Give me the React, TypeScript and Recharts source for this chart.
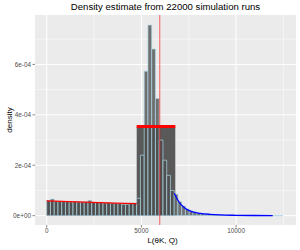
import {
  ComposedChart,
  Area,
  Line,
  XAxis,
  YAxis,
  CartesianGrid,
  ReferenceArea,
  ReferenceLine,
} from 'recharts';

// histogram of simulated L values, density in units of 1e-4
const BIN_WIDTH = 198;
const binDensity = [
  0.60, 0.66, 0.58, 0.57, 0.56, 0.56, 0.55, 0.56, 0.55, 0.54, 0.55, 0.61,
  0.53, 0.52, 0.52, 0.51, 0.52, 0.50, 0.50, 0.48, 0.45, 0.45, 0.50, 0.50,
  0.69, 2.4, 5.73, 7.56, 6.61, 4.65, 3.0, 2.2, 1.6, 1.0, 0.85,
  0.55, 0.38, 0.26, 0.19, 0.14, 0.10, 0.08, 0.06, 0.05, 0.04, 0.03, 0.03, 0.02, 0.02,
  0.015, 0.012, 0.01, 0.01, 0.008, 0.007, 0.006, 0.006, 0.005, 0.004, 0.004, 0.003, 0.003, 0.002,
];

// piecewise estimate: left segment (red), central block (thick red), tail (blue)
const leftSegment = [
  { x: 0, y: 0.59 },
  { x: 1200, y: 0.56 },
  { x: 2400, y: 0.53 },
  { x: 3600, y: 0.5 },
  { x: 4752, y: 0.475 },
];
const centralBlock = [
  { x: 4752, y: 3.54 },
  { x: 6790, y: 3.54 },
];
const tailCurve = [
  { x: 6737, y: 0.89 },
  { x: 6900, y: 0.65 },
  { x: 7038, y: 0.49 },
  { x: 7200, y: 0.36 },
  { x: 7392, y: 0.25 },
  { x: 7700, y: 0.15 },
  { x: 8094, y: 0.095 },
  { x: 8600, y: 0.055 },
  { x: 9150, y: 0.03 },
  { x: 10000, y: 0.015 },
  { x: 11000, y: 0.007 },
  { x: 11932, y: 0.003 },
];
const observedL = 5970;

const xTicks = [0, 5000, 10000];
const xMinor = [2500, 7500, 12500];
const yTicks = [0, 2, 4, 6];
const yMinor = [1, 3, 5, 7];

const fmtY = (v: number) => {
  const [m, e] = (v * 1e-4).toExponential(0).split('e');
  const sign = e.startsWith('-') ? '-' : '+';
  const digits = e.replace(/[-+]/, '').padStart(2, '0');
  return `${m}e${sign}${digits}`;
};

const FONT = '"Liberation Sans", Arial, sans-serif';

export default function App() {
  const bins = binDensity.map((d, i) => ({ x1: i * BIN_WIDTH, x2: (i + 1) * BIN_WIDTH, d }));
  return (
    <div style={{ position: 'absolute', left: 0, top: 0, width: 300, height: 250, background: '#fff', fontFamily: FONT }}>
      <div style={{ position: 'absolute', left: 35, width: 261, top: 1, textAlign: 'center', fontSize: 9.6, color: '#000' }}>
        Density estimate from 22000 simulation runs
      </div>
      <div
        style={{
          position: 'absolute', left: 9, top: 120, fontSize: 8, color: '#000',
          transform: 'translate(-50%, -50%) rotate(-90deg)', whiteSpace: 'nowrap',
        }}
      >
        density
      </div>
      <div style={{ position: 'absolute', left: 32, width: 261, top: 236, textAlign: 'center', fontSize: 8, color: '#000' }}>
        L(θK, Q)
      </div>
      <ComposedChart width={300} height={250} margin={{ top: 15, right: 4, bottom: 0, left: 0 }}>
        <CartesianGrid
          fill="#EBEBEB"
          stroke="#fff"
          strokeWidth={0.5}
          verticalValues={xMinor}
          horizontalValues={yMinor}
        />
        <CartesianGrid fill="none" stroke="#fff" strokeWidth={1} verticalValues={xTicks} horizontalValues={yTicks} />
        <XAxis
          type="number"
          dataKey="x"
          domain={[-618, 13163]}
          ticks={xTicks}
          allowDataOverflow
          height={25}
          axisLine={false}
          tickSize={2.5}
          tickMargin={1}
          tickLine={{ stroke: '#333', strokeWidth: 0.6 }}
          tick={{ fill: '#4D4D4D', fontSize: 6.4, fontFamily: FONT }}
        />
        <YAxis
          type="number"
          domain={[-0.37, 7.96]}
          ticks={yTicks}
          allowDataOverflow
          width={35}
          axisLine={false}
          tickSize={2.5}
          tickMargin={1.5}
          tickFormatter={fmtY}
          tickLine={{ stroke: '#333', strokeWidth: 0.6 }}
          tick={{ fill: '#4D4D4D', fontSize: 6.4, fontFamily: FONT }}
        />
        <Area
          data={leftSegment}
          dataKey="y"
          type="linear"
          fill="#595959"
          fillOpacity={1}
          stroke="none"
          isAnimationActive={false}
          dot={false}
          activeDot={false}
        />
        <Area
          data={centralBlock}
          dataKey="y"
          type="linear"
          fill="#595959"
          fillOpacity={1}
          stroke="none"
          isAnimationActive={false}
          dot={false}
          activeDot={false}
        />
        {bins.map((b, i) => (
          <ReferenceArea
            key={i}
            x1={b.x1}
            x2={b.x2}
            y1={0}
            y2={b.d}
            fill="#4D4D4D"
            fillOpacity={0.78}
            stroke="#ADD8E6"
            strokeWidth={0.7}
            ifOverflow="visible"
          />
        ))}
        <Line
          data={leftSegment}
          dataKey="y"
          type="linear"
          stroke="#FF0000"
          strokeWidth={1.3}
          dot={false}
          activeDot={false}
          isAnimationActive={false}
        />
        <Line
          data={centralBlock}
          dataKey="y"
          type="linear"
          stroke="#FF0000"
          strokeWidth={3}
          dot={false}
          activeDot={false}
          isAnimationActive={false}
        />
        <Line
          data={tailCurve}
          dataKey="y"
          type="monotone"
          stroke="#0000FF"
          strokeWidth={1.3}
          dot={false}
          activeDot={false}
          isAnimationActive={false}
        />
        <ReferenceLine x={observedL} stroke="#FF0000" strokeOpacity={0.6} strokeWidth={1} ifOverflow="visible" />
      </ComposedChart>
    </div>
  );
}
